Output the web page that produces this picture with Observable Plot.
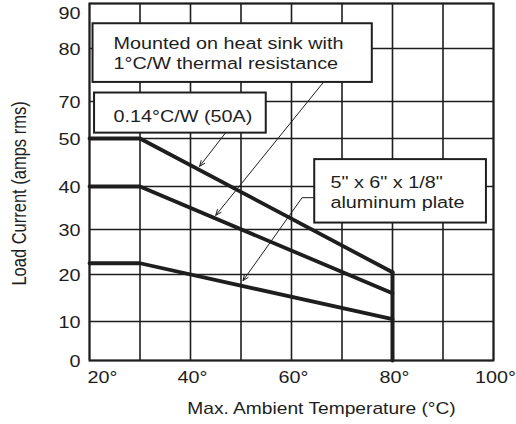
<!DOCTYPE html>
<html><head><meta charset="utf-8">
<script src="https://cdn.jsdelivr.net/npm/d3@7"></script>
<script src="https://cdn.jsdelivr.net/npm/@observablehq/plot@0.6"></script>
<style>
html,body{margin:0;padding:0;background:#fff;}
</style>
</head><body><div id="chart"></div>
<script>
// ---- data ----
const temps = [20, 30, 80];
const load50A = [50, 50, 20.5];
const loadHeatSink = [40, 40, 16];
const loadPlate = [22.5, 22.5, 10.5];
const cutoffTemp = [80, 80];
const cutoffLoad = [20.5, 0];

const xGridTicks = [20, 30, 40, 50, 60, 70, 80, 90, 100];
const xLabelTicks = [40, 60, 80, 100];
const xFirstTick = [20];
const yTicks = [0, 10, 20, 30, 40, 50, 70, 80, 90];
// the printed grid is uneven (no 60 line): heights of each labelled line above the 0 line
const yGridHeights = [0, 39, 86, 131, 174, 222, 259, 312, 357];

const boxText = ["Mounted on heat sink with\n1°C/W thermal resistance", "0.14°C/W (50A)", "5\" x 6\" x 1/8\"\naluminum plate"];
const boxX1 = [20.7, 21.0, 64.6];
const boxX2 = [76.0, 55.0, 98.6];
const boxY1 = [73.6, 52.9, 31.5];
const boxY2 = [85.5, 71.6, 45.6];
const textX = [24.75, 24.75, 67.7];
const textY = [79.3, 62.4, 38.9];

const arrowX1 = [66.3, 46.9, 62.1];
const arrowY1 = [73.6, 52.9, 37.4];
const arrowX2 = [45.0, 41.8, 50.4];
const arrowY2 = [33.3, 44.2, 18.7];
const leaderX1 = [64.6], leaderX2 = [62.1], leaderY = [37.4];

// ---- tables ----
const curves = [
  {name: "50A", loads: load50A},
  {name: "heatsink", loads: loadHeatSink},
  {name: "plate", loads: loadPlate}
].flatMap(c => temps.map((t, i) => ({series: c.name, t, v: c.loads[i]})));
const cutoff = cutoffTemp.map((t, i) => ({t, v: cutoffLoad[i]}));
const boxes = boxText.map((s, i) => ({s, x1: boxX1[i], x2: boxX2[i], y1: boxY1[i], y2: boxY2[i], tx: textX[i], ty: textY[i]}));
const arrows = arrowX1.map((x, i) => ({x1: x, y1: arrowY1[i], x2: arrowX2[i], y2: arrowY2[i]}));
const leaders = leaderX1.map((x, i) => ({x1: x, x2: leaderX2[i], y: leaderY[i]}));

const warp = d3.scaleLinear().domain(yTicks).range(yGridHeights);
const ink = "#1e1e1e";
const fs = 16.5;

const chart = Plot.plot({
  width: 516,
  height: 424,
  marginLeft: 89,
  marginRight: 23,
  marginTop: 3,
  marginBottom: 64,
  style: {fontFamily: "'Liberation Sans', Arial, sans-serif", fontSize: fs + "px", color: ink, background: "#fff"},
  x: {domain: [20, 100]},
  y: {domain: [0, 357], transform: warp},
  marks: [
    Plot.gridX(xGridTicks, {stroke: ink, strokeOpacity: 1, strokeWidth: 1.6}),
    Plot.gridY(yTicks, {stroke: ink, strokeOpacity: 1, strokeWidth: 1.6}),
    Plot.frame({stroke: ink, strokeWidth: 2}),
    Plot.axisX(xLabelTicks, {tickSize: 0, tickPadding: 11, tickFormat: d => d + "°", fontSize: fs, dx: 2, label: null}),
    Plot.axisX(xFirstTick, {tickSize: 0, tickPadding: 11, tickFormat: d => d + "°", fontSize: fs, textAnchor: "start", dx: -2, label: null}),
    Plot.axisY(yTicks.filter(d => d !== 90), {tickSize: 0, tickPadding: 9, fontSize: fs, dy: 1, label: null}),
    Plot.axisY([90], {tickSize: 0, tickPadding: 9, fontSize: fs, dy: 10, label: null}),
    Plot.line(curves, {x: "t", y: "v", z: "series", stroke: ink, strokeWidth: 3.8, strokeLinejoin: "miter"}),
    Plot.line(cutoff, {x: "t", y: "v", stroke: ink, strokeWidth: 4}),
    Plot.rect(boxes, {x1: "x1", x2: "x2", y1: "y1", y2: "y2", fill: "#fff", stroke: ink, strokeWidth: 2}),
    Plot.text(boxes, {x: "tx", y: "ty", text: "s", textAnchor: "start", lineAnchor: "middle", lineHeight: 1.25, fontSize: fs, fill: ink}),
    Plot.link(leaders, {x1: "x1", x2: "x2", y1: "y", y2: "y", stroke: ink, strokeWidth: 1}),
    Plot.arrow(arrows, {x1: "x1", y1: "y1", x2: "x2", y2: "y2", stroke: ink, strokeWidth: 1, headLength: 9, headAngle: 45}),
    Plot.text(["Max. Ambient Temperature (°C)"], {frameAnchor: "bottom", textAnchor: "middle", lineAnchor: "middle", dx: 30, dy: 48, fontSize: 16, fill: ink}),
    Plot.text(["Load Current (amps rms)"], {frameAnchor: "left", textAnchor: "middle", lineAnchor: "middle", rotate: -90, dx: -70, dy: 11.5, fontSize: fs, fill: ink})
  ]
});

// the printed artwork uses a horizontally wide face: widen every label along the page's x direction
d3.select(chart).selectAll("text").each(function () {
  const t = this.getAttribute("transform");
  if (!t) return;
  this.setAttribute("transform", t + (t.includes("rotate") ? " scale(1,1.2)" : " scale(1.2,1)"));
});

document.getElementById("chart").appendChild(chart);
</script>
</body></html>
